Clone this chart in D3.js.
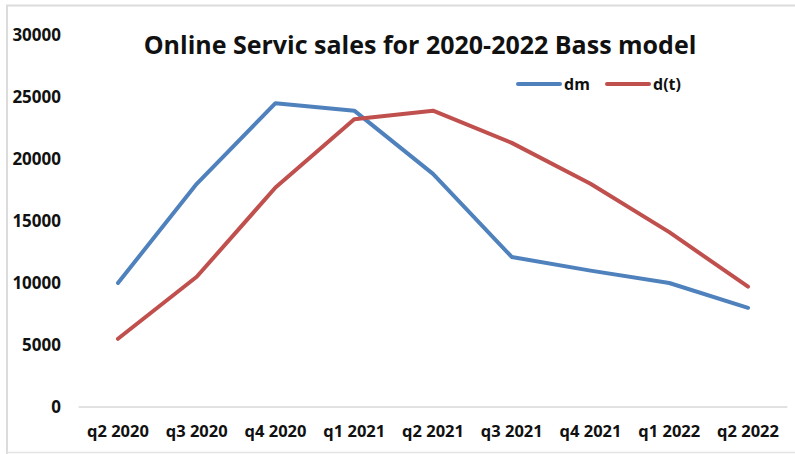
<!DOCTYPE html>
<html><head><meta charset="utf-8">
<script src="https://cdn.jsdelivr.net/npm/d3@7"></script>
<style>body{margin:0;background:#fff}svg{display:block}text{font-family:"Open Sans",sans-serif;font-weight:bold;fill:#111}</style>
</head><body><svg id="c" width="795" height="454"></svg>
<script>
const categories = ["q2 2020","q3 2020","q4 2020","q1 2021","q2 2021","q3 2021","q4 2021","q1 2022","q2 2022"];
const dm = [10000,18000,24500,23900,18800,12100,11000,10000,8000];
const dt = [5500,10500,17700,23200,23900,21300,18000,14100,9700];
const yTicks = [0,5000,10000,15000,20000,25000,30000];
const seriesNames = ["dm","d(t)"];
const colors = ["#4f81bd","#c0504d"];

const svg = d3.select("#c");
// frame
svg.append("path").attr("d","M7,454 L7,5.5 L795,5.5").attr("fill","none").attr("stroke","#dcdcdc").attr("stroke-width",2);
svg.append("line").attr("x1",7).attr("x2",795).attr("y1",452.5).attr("y2",452.5).attr("stroke","#e4e4e4").attr("stroke-width",1.5);

const x = d3.scaleBand().domain(categories).range([78.6,787.4]);
const y = d3.scaleLinear().domain([0,30000]).range([407,35]);

// y labels
svg.append("g").selectAll("text").data(yTicks).join("text")
  .attr("x",61).attr("y",d=>y(d)).attr("dy","0.35em").attr("text-anchor","end")
  .style("font-size","17px").text(d=>d);

// x axis
svg.append("line").attr("x1",x.range()[0]).attr("x2",x.range()[1]).attr("y1",y(0)).attr("y2",y(0))
  .attr("stroke","#d9d9d9").attr("stroke-width",1.5);
svg.append("g").selectAll("text").data(categories).join("text")
  .attr("x",d=>x(d)+x.bandwidth()/2).attr("y",y(0)+30).attr("text-anchor","middle")
  .style("font-size","16.5px").text(d=>d);

const line = d3.line().x((d,i)=>x(categories[i])+x.bandwidth()/2).y(d=>y(d));
[dm,dt].forEach((s,k)=>{
  svg.append("path").attr("d",line(s)).attr("fill","none").attr("stroke",colors[k])
    .attr("stroke-width",4).attr("stroke-linejoin","round").attr("stroke-linecap","round");
});

// title
svg.append("text").attr("x",420).attr("y",54).attr("text-anchor","middle")
  .style("font-size","25px").text("Online Servic sales for 2020-2022 Bass model");

// legend
const lx = [518,607];
seriesNames.forEach((n,k)=>{
  svg.append("line").attr("x1",lx[k]).attr("x2",lx[k]+42).attr("y1",84).attr("y2",84)
    .attr("stroke",colors[k]).attr("stroke-width",4).attr("stroke-linecap","round");
  svg.append("text").attr("x",lx[k]+46).attr("y",84).attr("dy","0.35em").style("font-size","16px").text(n);
});
</script></body></html>
